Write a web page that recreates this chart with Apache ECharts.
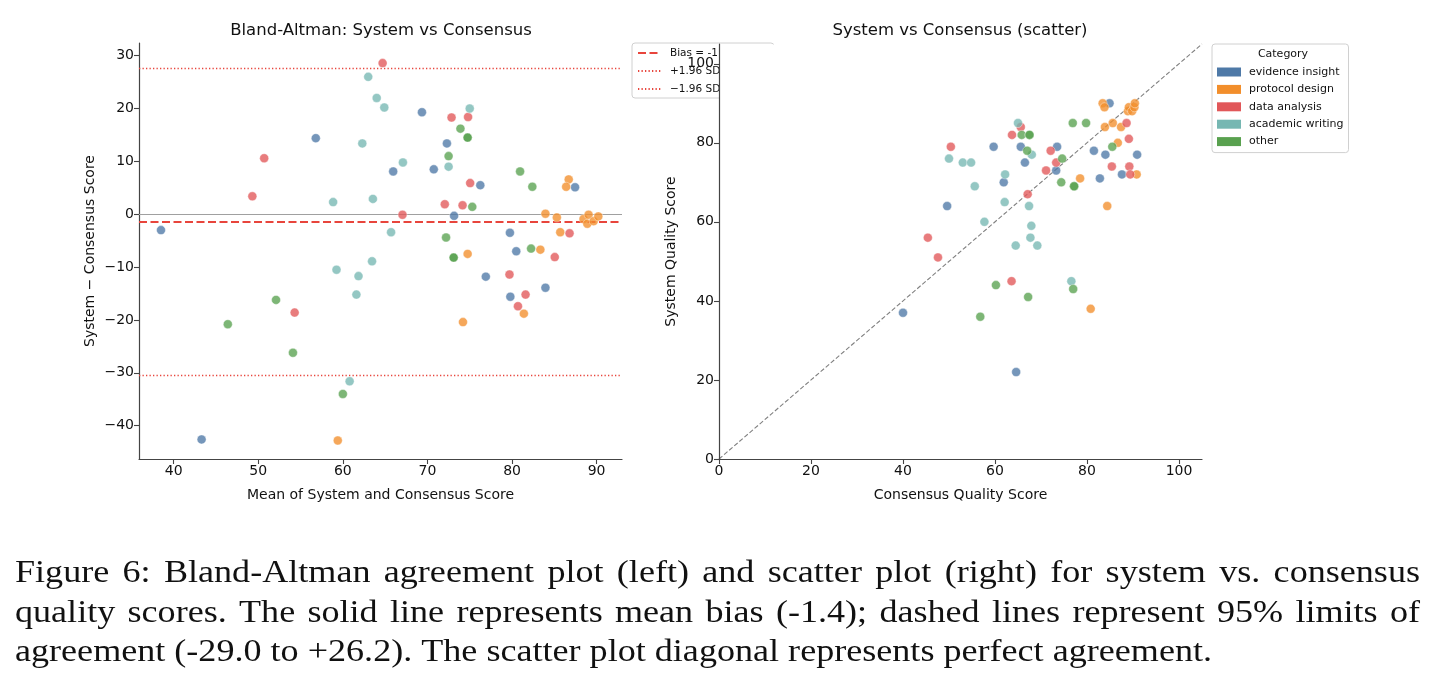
<!DOCTYPE html>
<html><head><meta charset="utf-8">
<script src="https://cdn.jsdelivr.net/npm/echarts@6/dist/echarts.min.js"></script>
<style>html,body{margin:0;padding:0;background:#fff}#chart{width:1434px;height:685px}</style>
</head><body><div id="chart"></div>
<script>
// ---------- data ----------
const categories = ['evidence insight', 'protocol design', 'data analysis', 'academic writing', 'other'];
const categoryColors = ['#4e79a7', '#f28e2b', '#e15759', '#76b7b2', '#59a14f'];

const evidenceInsightConsensus = [40.0, 49.6, 59.7, 65.6, 61.9, 66.5, 73.5, 73.3, 81.5, 84.9, 84.0, 82.8, 90.9, 87.6, 64.6];
const evidenceInsightSystem    = [37, 64, 79, 79, 70, 75, 79, 73, 78, 90, 77, 71, 77, 72, 22];
const protocolDesignConsensus  = [83.4, 83.8, 83.9, 85.6, 87.4, 88.9, 89.1, 89.8, 90.3, 90.4, 86.7, 78.5, 90.8, 84.4, 80.8];
const protocolDesignSystem     = [90, 89, 84, 85, 84, 88, 89, 88, 89, 90, 80, 71, 72, 64, 38];
const dataAnalysisConsensus    = [45.4, 47.6, 50.4, 63.7, 65.6, 72.1, 71.1, 73.3, 67.1, 88.6, 89.1, 85.4, 89.2, 89.4, 63.6];
const dataAnalysisSystem       = [56, 51, 79, 82, 84, 78, 73, 75, 67, 85, 81, 74, 74, 72, 45];
const academicWritingConsensus = [57.7, 55.6, 50.0, 53.0, 62.1, 54.8, 65.0, 68.0, 62.2, 67.4, 67.9, 64.5, 67.7, 69.2, 76.6];
const academicWritingSystem    = [60, 69, 76, 75, 65, 75, 85, 77, 72, 64, 59, 54, 56, 54, 45];
const otherConsensus           = [65.8, 67.5, 67.5, 67.0, 74.6, 74.4, 76.9, 79.8, 85.5, 77.2, 77.2, 60.2, 56.8, 67.2, 77.0];
const otherSystem              = [82, 82, 82, 78, 76, 70, 85, 85, 79, 69, 69, 44, 36, 41, 43];

const biasValue = -1.4;
const upperLimit = 27.7;
const lowerLimit = -30.5;
const biasName = 'Bias = -1.4';
const upperName = '+1.96 SD = 27.7';
const lowerName = '\u22121.96 SD = \u221230.5';

const baXRange = [35.9, 93.0];
const baYRange = [-46.3, 32.4];
const scRange = [0, 105];
const baXTicks = [40, 50, 60, 70, 80, 90];
const baYTicks = [-40, -30, -20, -10, 0, 10, 20, 30];
const scTicks = [0, 20, 40, 60, 80, 100];

const captionLines = [
  'Figure 6: Bland-Altman agreement plot (left) and scatter plot (right) for system vs. consensus',
  'quality scores. The solid line represents mean bias (-1.4); dashed lines represent 95% limits of',
  'agreement (-29.0 to +26.2). The scatter plot diagonal represents perfect agreement.'
];

// ---------- build ----------
const consensusByCat = [evidenceInsightConsensus, protocolDesignConsensus, dataAnalysisConsensus, academicWritingConsensus, otherConsensus];
const systemByCat = [evidenceInsightSystem, protocolDesignSystem, dataAnalysisSystem, academicWritingSystem, otherSystem];

const FONT = 'DejaVu Sans';
const axisColor = '#444';
const fmt = v => (v < 0 ? '\u2212' + Math.abs(v) : String(v));

function makeAxis(gridIndex, range, ticks, name, nameGap, z) {
  return {
    type: 'value', gridIndex, min: range[0], max: range[1], z: z || 0,
    name, nameLocation: 'middle', nameGap,
    nameTextStyle: { fontFamily: FONT, fontSize: 14, color: '#111' },
    axisLine: { show: true, onZero: false, lineStyle: { color: axisColor, width: 1.2 } },
    axisTick: { show: true, inside: false, length: 5, customValues: ticks, lineStyle: { color: axisColor, width: 1.1 } },
    axisLabel: { show: true, customValues: ticks, formatter: fmt, fontFamily: FONT, fontSize: 14, color: '#111', margin: 5 },
    splitLine: { show: false }
  };
}

const series = [];
categories.forEach((name, i) => {
  const cons = consensusByCat[i], sys = systemByCat[i];
  const style = { color: categoryColors[i], opacity: 0.78, borderColor: '#fff', borderWidth: 0.5 };
  series.push({
    type: 'scatter', name, xAxisIndex: 0, yAxisIndex: 0, symbolSize: 9, z: 6,
    itemStyle: style, emphasis: { disabled: true },
    data: cons.map((c, k) => [(c + sys[k]) / 2, sys[k] - c])
  });
  series.push({
    type: 'scatter', name, xAxisIndex: 1, yAxisIndex: 1, symbolSize: 9, z: 6,
    itemStyle: style, emphasis: { disabled: true },
    data: cons.map((c, k) => [c, sys[k]])
  });
});

function refLine(name, value, ls) {
  return {
    type: 'line', name, xAxisIndex: 0, yAxisIndex: 0, data: [], symbol: 'none', showSymbol: false, z: 4,
    lineStyle: ls, itemStyle: { color: ls.color },
    markLine: { silent: true, symbol: 'none', label: { show: false }, lineStyle: ls, data: [{ yAxis: value }] }
  };
}
// zero line
series.push({
  type: 'line', name: 'zero', xAxisIndex: 0, yAxisIndex: 0, data: [], symbol: 'none', z: 3,
  markLine: { silent: true, symbol: 'none', label: { show: false },
    lineStyle: { color: '#a0a0a0', width: 1.1, type: 'solid' }, data: [{ yAxis: 0 }] }
});
series.push(refLine(biasName, biasValue, { color: '#e8453c', width: 2.2, type: [8, 3.5] }));
series.push(refLine(upperName, upperLimit, { color: '#e8453c', width: 1.3, type: [1.3, 2.2] }));
series.push(refLine(lowerName, lowerLimit, { color: '#e8453c', width: 1.3, type: [1.3, 2.2] }));
// diagonal of perfect agreement
series.push({
  type: 'line', name: 'diagonal', xAxisIndex: 1, yAxisIndex: 1, data: [], symbol: 'none', z: 3,
  markLine: { silent: true, symbol: 'none', label: { show: false },
    lineStyle: { color: '#808080', width: 1.1, type: [4.5, 2.2] },
    data: [[{ coord: [scRange[0], scRange[0]] }, { coord: [scRange[1], scRange[1]] }]] }
});

// caption (justified lines, glyphs widened to imitate Computer Modern proportions)
const capSize = 32;
const capFamily = 'Liberation Serif';
const capFont = capSize + 'px "' + capFamily + '"';
const ctx = document.createElement('canvas').getContext('2d');
ctx.font = capFont;
const capLeft = 15, capRight = 1420, lastLineRight = 1212;
const capScaleX = (lastLineRight - capLeft) / ctx.measureText(captionLines[2]).width;
const capY = [574, 614, 653];
const graphicEls = [];
captionLines.forEach((line, li) => {
  if (li < 2) {
    const words = line.split(' ');
    const widths = words.map(w => ctx.measureText(w).width * capScaleX);
    const total = widths.reduce((a, b) => a + b, 0);
    const gap = (capRight - capLeft - total) / (words.length - 1);
    let x = capLeft;
    words.forEach((w, k) => {
      graphicEls.push({ type: 'text', x, y: capY[li], scaleX: capScaleX, z: 10,
        style: { text: w, font: capFont, fill: '#111', textVerticalAlign: 'middle' } });
      x += widths[k] + gap;
    });
  } else {
    graphicEls.push({ type: 'text', x: capLeft, y: capY[li], scaleX: capScaleX, z: 10,
      style: { text: line, font: capFont, fill: '#111', textVerticalAlign: 'middle' } });
  }
});
// plot titles
graphicEls.push({ type: 'text', x: 381, y: 31, z: 10,
  style: { text: 'Bland-Altman: System vs Consensus', font: '16.5px "DejaVu Sans"', fill: '#111', textAlign: 'center', textVerticalAlign: 'middle' } });
graphicEls.push({ type: 'text', x: 960, y: 31, z: 10,
  style: { text: 'System vs Consensus (scatter)', font: '16.5px "DejaVu Sans"', fill: '#111', textAlign: 'center', textVerticalAlign: 'middle' } });
// right axes background hiding the overflowing part of the left legend
graphicEls.push({ type: 'rect', shape: { x: 720, y: 44.5, width: 200, height: 70 }, z: 3, style: { fill: '#fff' } });
// legend title
graphicEls.push({ type: 'text', x: 1283, y: 54, z: 10,
  style: { text: 'Category', font: '11px "DejaVu Sans"', fill: '#111', textAlign: 'center', textVerticalAlign: 'middle' } });

const option = {
  backgroundColor: '#fff',
  animation: false,
  grid: [
    { left: 139, top: 43, width: 483, height: 416 },
    { left: 719, top: 44, width: 483, height: 415 }
  ],
  xAxis: [
    makeAxis(0, baXRange, baXTicks, 'Mean of System and Consensus Score', 29, 0),
    makeAxis(1, scRange, scTicks, 'Consensus Quality Score', 29, 5)
  ],
  yAxis: [
    makeAxis(0, baYRange, baYTicks, 'System \u2212 Consensus Score', 42, 0),
    makeAxis(1, scRange, scTicks, 'System Quality Score', 41, 5)
  ],
  legend: [
    {
      data: [biasName, upperName, lowerName], orient: 'vertical', left: 632, top: 43, z: 2,
      padding: [4, 6, 3, 5], itemWidth: 23, itemHeight: 12, itemGap: 6,
      backgroundColor: '#fff', borderColor: '#d0d0d0', borderWidth: 1, borderRadius: 3,
      itemStyle: { opacity: 0, borderWidth: 0 },
      textStyle: { fontFamily: FONT, fontSize: 10.5, color: '#111', lineHeight: 12, padding: [0, 0, 0, 4] },
      selectedMode: false
    },
    {
      data: categories.map(n => ({ name: n, icon: 'rect' })), orient: 'vertical', left: 1212, top: 44, z: 4,
      padding: [22, 5, 5, 5], itemWidth: 24, itemHeight: 9, itemGap: 5.4,
      backgroundColor: '#fff', borderColor: '#d0d0d0', borderWidth: 1, borderRadius: 3,
      itemStyle: { opacity: 1, borderWidth: 0 },
      textStyle: { fontFamily: FONT, fontSize: 11, color: '#111', lineHeight: 12, padding: [0, 0, 0, 3] },
      selectedMode: false
    }
  ],
  graphic: { elements: graphicEls },
  series
};

const chart = echarts.init(document.getElementById('chart'), null, { renderer: 'canvas' });
chart.setOption(option);
</script>
</body></html>
